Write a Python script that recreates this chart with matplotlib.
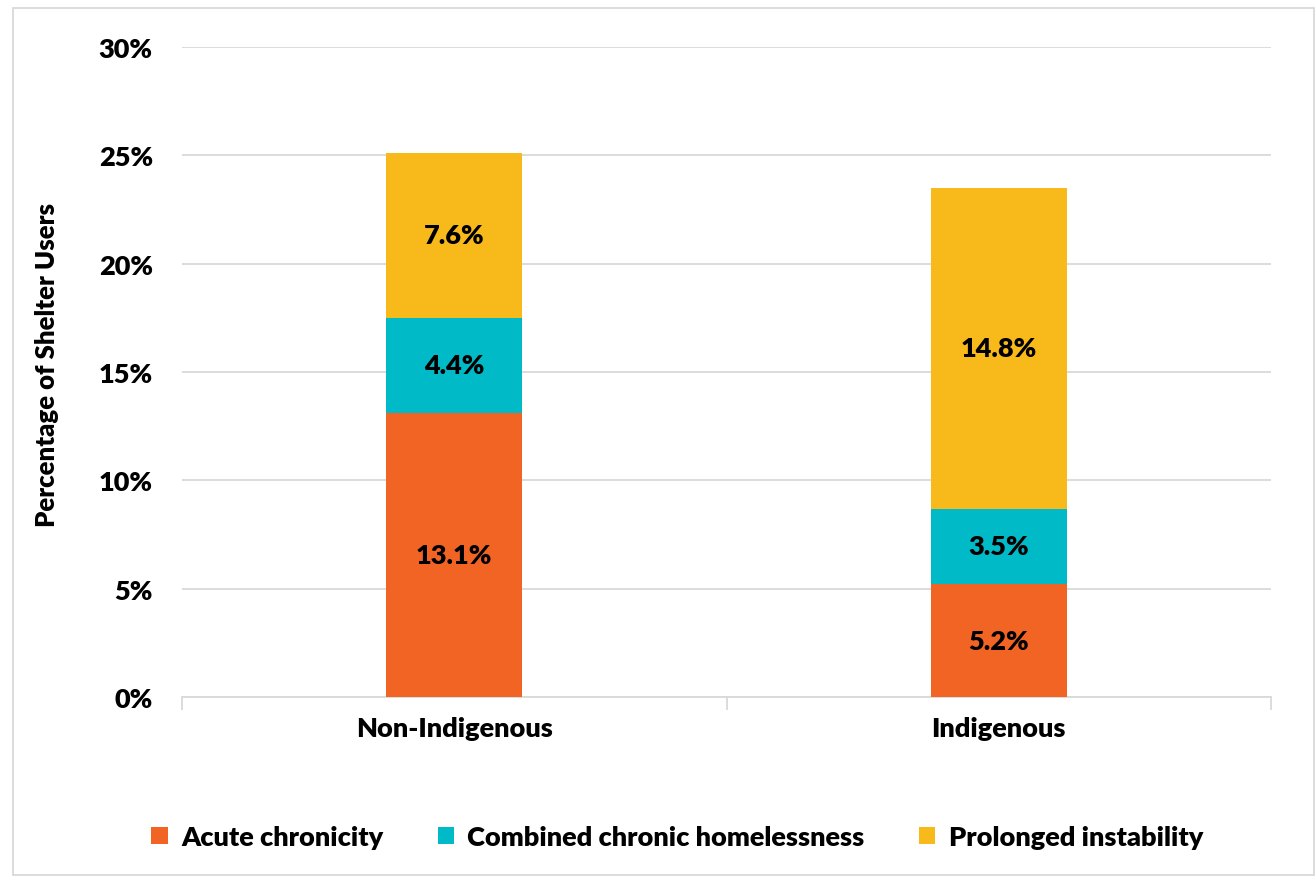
import numpy as np
import matplotlib
matplotlib.use('Agg')
import matplotlib.pyplot as plt
from matplotlib.patches import Rectangle

plt.rcParams['font.family'] = ['Lato', 'DejaVu Sans']
plt.rcParams['font.weight'] = 'heavy'

categories = ['Non-Indigenous', 'Indigenous']
series_names = ['Acute chronicity', 'Combined chronic homelessness', 'Prolonged instability']
acute = [13.1, 5.2]
combined = [4.4, 3.5]
prolonged = [7.6, 14.8]
colors = ['#F26424', '#00BBC7', '#F8B91B']
yticks = [0, 5, 10, 15, 20, 25, 30]

FS = 19.5
fig = plt.figure(figsize=(13.15, 8.78), dpi=100)
ax = fig.add_axes([182/1315, 1 - 698/878, (1271-182)/1315, (698-48)/878])

x = np.arange(len(categories))
bottom = np.zeros(len(categories))
for name, vals, c in zip(series_names, [acute, combined, prolonged], colors):
    vals = np.array(vals)
    ax.bar(x, vals, width=0.25, bottom=bottom, color=c, label=name, zorder=3)
    for xi, b, v in zip(x, bottom, vals):
        ax.text(xi, b + v / 2, f'{v:.1f}%', ha='center', va='center',
                fontsize=FS, fontweight='heavy', color='black', zorder=4)
    bottom += vals

ax.set_xlim(-0.5, 1.5)
ax.set_ylim(0, 30)
ax.set_yticks(yticks)
ax.set_yticklabels([f'{t}%' for t in yticks])
ax.grid(axis='y', color='#d9d9d9', linewidth=1.3, zorder=0)
for s in ['top', 'right', 'left']:
    ax.spines[s].set_visible(False)
ax.spines['bottom'].set_color('#d9d9d9')
ax.spines['bottom'].set_linewidth(1.3)
ax.tick_params(axis='y', length=0, pad=21, labelsize=FS)
ax.set_xticks(x)
ax.set_xticklabels(categories, fontsize=FS)
ax.tick_params(axis='x', length=0, pad=14)
# category boundary ticks
ax.set_xticks([-0.5, 0.5, 1.5], minor=True)
ax.tick_params(axis='x', which='minor', length=9, color='#d9d9d9', width=1.3)

fig.text(47/1315, 1 - 365/878, 'Percentage of Shelter Users', rotation=90,
         ha='center', va='center', fontsize=18.5, fontweight='heavy')

fig.legend(loc='center', bbox_to_anchor=(0.515, 1 - 838/878), ncol=3, frameon=False,
           fontsize=FS, handlelength=0.6, handleheight=0.6, columnspacing=2.0,
           handletextpad=0.5)

fig.patches.append(Rectangle((13/1315, 0.002), 1 - 14/1315, 1 - 9/878 - 0.002,
                             transform=fig.transFigure, fill=False,
                             edgecolor='#d9d9d9', linewidth=1.3))

fig.savefig('out.png', dpi=100)
